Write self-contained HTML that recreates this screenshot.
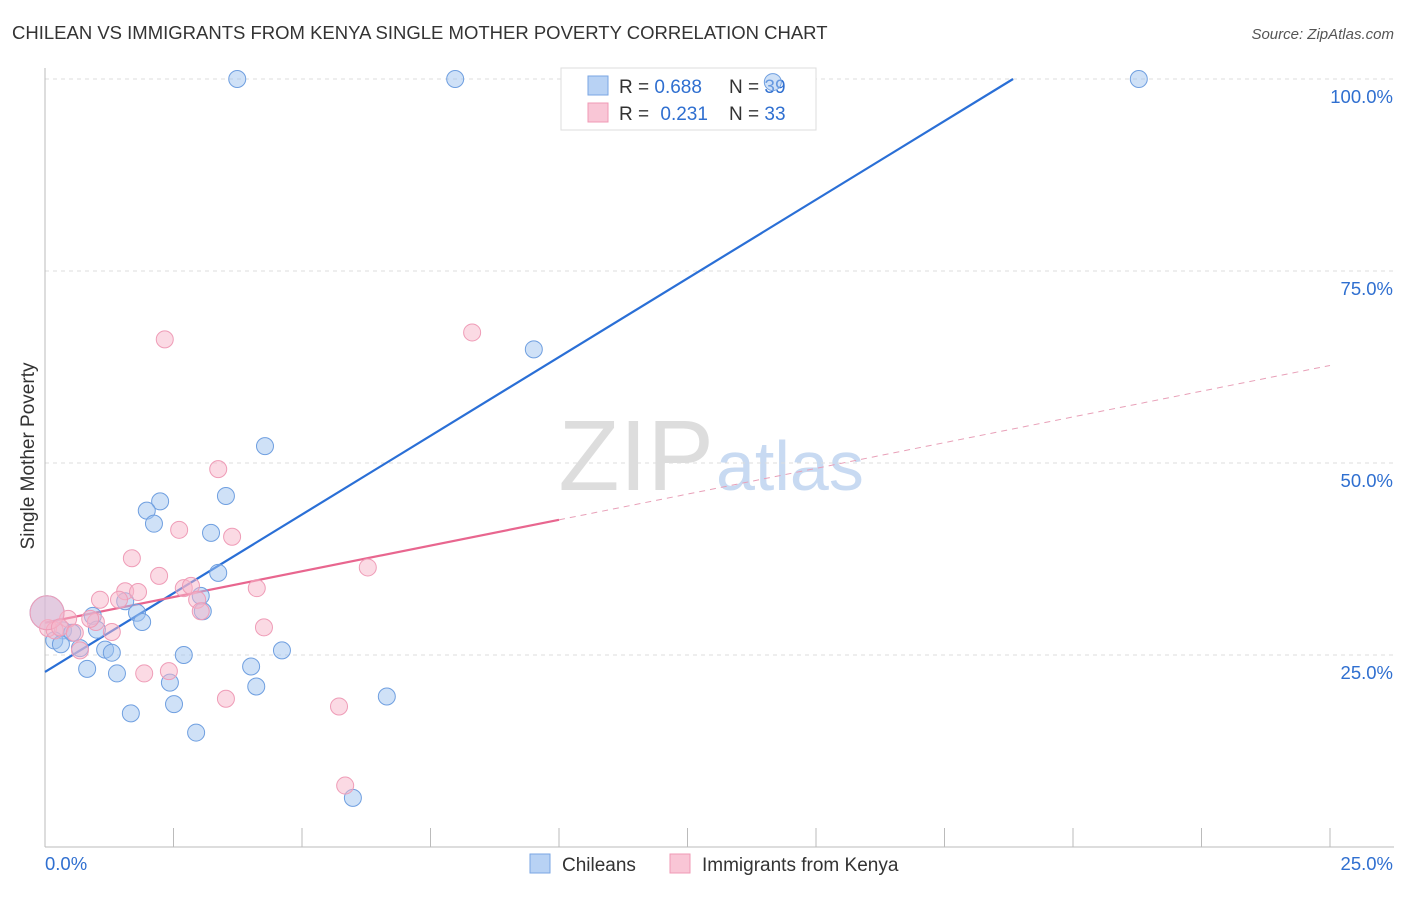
<!DOCTYPE html>
<html><head><meta charset="utf-8"><style>
body{margin:0;background:#fff;font-family:"Liberation Sans",sans-serif;}
svg text{font-family:"Liberation Sans",sans-serif;}
</style></head><body>
<svg id="chart" width="1406" height="892" viewBox="0 0 1406 892" xmlns="http://www.w3.org/2000/svg">
<text x="12" y="39" font-size="18.5" fill="#333">CHILEAN VS IMMIGRANTS FROM KENYA SINGLE MOTHER POVERTY CORRELATION CHART</text>
<text x="1394" y="39" font-size="15" fill="#555" font-style="italic" text-anchor="end">Source: ZipAtlas.com</text>
<text x="714" y="490" font-size="100" fill="#ddd" text-anchor="end" font-family="Liberation Serif">ZIP</text>
<text x="716" y="490" font-size="70" fill="#c8daf2">atlas</text>
<g id="grid"></g>
<g id="axes"></g>
<g>
<rect x="561" y="68" width="255" height="62" fill="#fff" stroke="#ddd"/>
<rect x="588" y="76" width="20" height="19" fill="#b8d2f4" stroke="#7aa6e3"/>
<rect x="588" y="103" width="20" height="19" fill="#f9c6d6" stroke="#f09ab5"/>
<text x="619" y="93" font-size="19" fill="#333">R = <tspan fill="#2f6fd0">0.688</tspan></text>
<text x="729" y="93" font-size="19" fill="#333">N = <tspan fill="#2f6fd0">39</tspan></text>
<text x="619" y="120" font-size="19" fill="#333">R = <tspan fill="#2f6fd0" dx="6">0.231</tspan></text>
<text x="729" y="120" font-size="19" fill="#333">N = <tspan fill="#2f6fd0">33</tspan></text>
</g>
<g id="trend"></g>
<g id="pts"></g>
<text transform="translate(34,456) rotate(-90)" font-size="19" fill="#333" text-anchor="middle">Single Mother Poverty</text>
<g>
<rect x="530" y="854" width="20" height="19" fill="#b8d2f4" stroke="#7aa6e3"/>
<text x="562" y="871" font-size="19" fill="#333">Chileans</text>
<rect x="670" y="854" width="20" height="19" fill="#f9c6d6" stroke="#f09ab5"/>
<text x="702" y="871" font-size="19" fill="#333">Immigrants from Kenya</text>
</g>
</svg>
<script>
const blueX=[3.74,7.98,14.16,21.28,9.51,4.28,3.52,2.24,1.98,2.12,3.23,3.37,3.03,1.56,3.07,0.93,1.79,1.89,1.01,0.35,0.53,0.18,0.31,0.68,1.17,1.30,2.70,4.61,4.01,0.82,1.40,2.43,4.11,6.65,2.51,1.67,2.94,5.99,0.04];
const blueY=[100,100,99.6,100,64.8,52.2,45.7,45.0,43.8,42.1,40.9,35.7,32.7,32.0,30.7,30.1,30.5,29.3,28.3,28.2,27.9,26.9,26.4,25.9,25.7,25.3,25.0,25.6,23.5,23.2,22.6,21.4,20.9,19.6,18.6,17.4,14.9,6.4,30.5];
const pinkX=[2.33,8.31,3.37,2.61,3.64,1.69,2.22,6.28,4.12,2.70,2.84,1.56,1.81,1.07,1.44,2.96,3.03,0.45,0.99,4.26,1.30,0.06,0.68,0.19,1.93,2.41,3.52,5.72,5.84,0.04,0.29,0.58,0.88];
const pinkY=[66.1,67.0,49.2,41.3,40.4,37.6,35.3,36.4,33.7,33.7,34.0,33.3,33.2,32.2,32.2,32.2,30.7,29.7,29.3,28.6,28.0,28.5,25.6,28.2,22.6,22.9,19.3,18.3,8.0,30.5,28.6,27.9,29.7];
const yTicks=[25,50,75,100];
const yTickLabels=["25.0%","50.0%","75.0%","100.0%"];
const xTicks=[0,2.5,5,7.5,10,12.5,15,17.5,20,22.5,25];
const blueTrend=[22.8,4.099];
const pinkTrend=[29.2,1.34];
const NS="http://www.w3.org/2000/svg";
const sx=v=>45+v/25*1285, sy=v=>847-v*7.68;
function mk(tag,attrs,parent){const e=document.createElementNS(NS,tag);for(const k in attrs)e.setAttribute(k,attrs[k]);document.getElementById(parent).appendChild(e);return e;}
yTicks.forEach((t,i)=>{
 const l=mk('line',{x1:45,x2:1394,y1:sy(t),y2:sy(t),stroke:'#ddd','stroke-dasharray':'4,4'},'grid');
 
 
 const tx=mk('text',{x:1393,y:sy(t)+24,'font-size':18.5,fill:'#2f6fd0','text-anchor':'end'},'grid');
 tx.textContent=yTickLabels[i];
 
 
});
const ax=mk('line',{x1:45,x2:45,y1:68,y2:847,stroke:'#bbb'},'axes');


const bx=mk('line',{x1:45,x2:1394,y1:847,y2:847,stroke:'#bbb'},'axes');


xTicks.forEach(t=>{
 const l=mk('line',{x1:sx(t),x2:sx(t),y1:828,y2:847,stroke:'#bbb'},'axes');
 
 
});
const xl0=mk('text',{x:45,y:870,'font-size':18.5,fill:'#2f6fd0'},'axes');xl0.textContent='0.0%';


const xl1=mk('text',{x:1393,y:870,'font-size':18.5,fill:'#2f6fd0','text-anchor':'end'},'axes');xl1.textContent='25.0%';


const bEnd=(100-blueTrend[0])/blueTrend[1];
const bt=mk('line',{x1:sx(0),y1:sy(blueTrend[0]),x2:sx(bEnd),y2:sy(100),stroke:'#2a6fd6','stroke-width':2.2},'trend');


const pt=mk('line',{x1:sx(0),y1:sy(pinkTrend[0]),x2:sx(10),y2:sy(pinkTrend[0]+10*pinkTrend[1]),stroke:'#e8668f','stroke-width':2.2},'trend');


const pd=mk('line',{x1:sx(10),y1:sy(pinkTrend[0]+10*pinkTrend[1]),x2:sx(25),y2:sy(pinkTrend[0]+25*pinkTrend[1]),stroke:'#e8a0b8','stroke-width':1,'stroke-dasharray':'6,5'},'trend');


function pts(X,Y,fill,stroke,name){
 X.forEach((x,i)=>{
  const big=x<0.1&&Math.abs(Y[i]-30.5)<0.1;
  const c=mk('circle',{cx:sx(x),cy:sy(Y[i]),r:big?17:8.5,fill:fill,stroke:stroke,'stroke-width':1},'pts');
  
  
 });
}
pts(blueX,blueY,'rgba(160,196,240,0.5)','#6f9fe0','chileans-point');
pts(pinkX,pinkY,'rgba(248,182,202,0.5)','#ef9cb7','kenya-point');
</script>
</body></html>
